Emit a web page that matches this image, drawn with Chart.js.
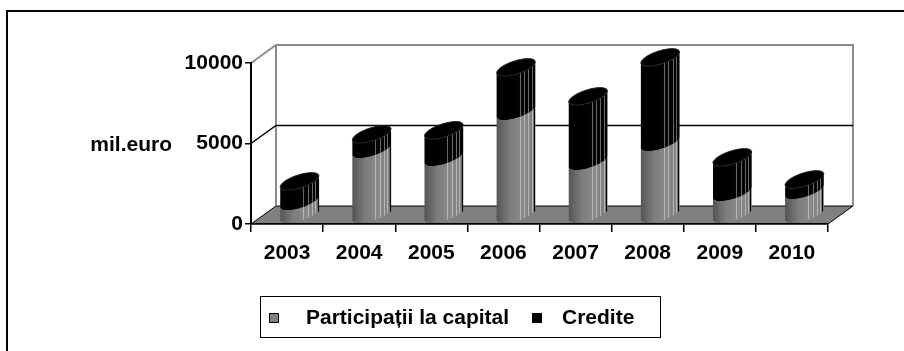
<!DOCTYPE html>
<html>
<head>
<meta charset="utf-8">
<script src="https://cdn.jsdelivr.net/npm/chart.js@4.4.1/dist/chart.umd.min.js"></script>
<style>
    html, body { margin: 0; padding: 0; background: #fff; }
    canvas { display: block; }
</style>
</head>
<body>
<canvas id="barChart" width="904" height="351"></canvas>
<script>
const years = ["2003", "2004", "2005", "2006", "2007", "2008", "2009", "2010"];
const participatii = [850, 4080, 3580, 6440, 3330, 4510, 1400, 1530];
const credite = [1240, 930, 1680, 2730, 4040, 5280, 2180, 680];
const yTicks = [0, 5000, 10000];

const FAMILY = "'Liberation Sans', Arial, sans-serif";
const FONT_SIZE = 21;
const DEPTH = { x: 25, y: -18 }; // oblique offset of the back wall
const DLEN = Math.hypot(DEPTH.x, DEPTH.y);
const U = { x: DEPTH.x / DLEN, y: DEPTH.y / DLEN };

// point on a horizontal circle of the cylinder, seen in oblique projection
function pt(cx, cy, r, t) {
    return [cx + r * Math.cos(t) + r * U.x * Math.sin(t), cy + r * U.y * Math.sin(t)];
}

function drawSegment(ctx, cx, yb, yt, r, colors, stripe) {
    const tL = Math.atan2(-U.x, -1);
    const N = 32;
    ctx.beginPath();
    for (let i = 0; i <= N; i++) {
        const [x, y] = pt(cx, yb, r, tL + Math.PI * i / N);
        i ? ctx.lineTo(x, y) : ctx.moveTo(x, y);
    }
    for (let i = N; i >= 0; i--) {
        const [x, y] = pt(cx, yt, r, tL + Math.PI * i / N);
        ctx.lineTo(x, y);
    }
    ctx.closePath();
    const hw = r * Math.hypot(1, U.x);
    const g = ctx.createLinearGradient(cx - hw, 0, cx + hw, 0);
    colors.forEach((c, i) => g.addColorStop(i / (colors.length - 1), c));
    ctx.fillStyle = g;
    ctx.fill();
    ctx.save();
    ctx.clip();
    ctx.strokeStyle = stripe;
    ctx.lineWidth = 1;
    [0.56, 0.64, 0.72, 0.8, 0.88].forEach(f => {
        const t = tL + Math.PI * f;
        const [x1, y1] = pt(cx, yb, r, t);
        const [, y2] = pt(cx, yt, r, t);
        ctx.beginPath();
        ctx.moveTo(Math.round(x1) + 0.5, y1);
        ctx.lineTo(Math.round(x1) + 0.5, y2);
        ctx.stroke();
    });
    ctx.restore();
    ctx.strokeStyle = "#000";
    ctx.lineWidth = 1.2;
    ctx.stroke();
}

const fills = [
    ["#555555", "#7c7c7c", "#8a8a8a", "#7e7e7e"],
    ["#000000", "#000000", "#050505", "#000000"],
];
const stripes = ["#b8b8b8", "#6a6a6a"];

const chart3d = {
    id: "chart3d",
    beforeDraw(chart) {
        const { ctx, chartArea: a, scales: { y } } = chart;
        const dx = DEPTH.x, dy = DEPTH.y;
        const y0 = y.getPixelForValue(0);
        const yt = y.getPixelForValue(y.max);
        ctx.save();
        // outer frame (top + left)
        ctx.strokeStyle = "#000";
        ctx.lineWidth = 2;
        ctx.beginPath();
        ctx.moveTo(7, 351);
        ctx.lineTo(7, 11);
        ctx.lineTo(904, 11);
        ctx.stroke();
        // floor
        ctx.fillStyle = "#808080";
        ctx.beginPath();
        ctx.moveTo(a.left, y0);
        ctx.lineTo(a.left + dx, y0 + dy);
        ctx.lineTo(a.right + dx, y0 + dy);
        ctx.lineTo(a.right, y0);
        ctx.closePath();
        ctx.fill();
        ctx.strokeStyle = "#000";
        ctx.lineWidth = 1;
        ctx.stroke();
        // back wall outline
        ctx.strokeStyle = "#8c8c8c";
        ctx.lineWidth = 2;
        ctx.beginPath();
        ctx.moveTo(a.left, yt);
        ctx.lineTo(a.left + dx, yt + dy);
        ctx.lineTo(a.right + dx, yt + dy);
        ctx.lineTo(a.right + dx, y0 + dy);
        ctx.moveTo(a.left + dx, yt + dy);
        ctx.lineTo(a.left + dx, y0 + dy);
        ctx.stroke();
        // gridlines on side and back wall
        ctx.strokeStyle = "#000";
        ctx.lineWidth = 1.5;
        yTicks.filter(v => v > 0 && v < y.max).forEach(v => {
            const py = y.getPixelForValue(v);
            ctx.beginPath();
            ctx.moveTo(a.left, py);
            ctx.lineTo(a.left + dx, py + dy);
            ctx.lineTo(a.right + dx, py + dy);
            ctx.stroke();
        });
        ctx.restore();
    },
    beforeDatasetsDraw(chart) {
        const ctx = chart.ctx;
        const n = chart.data.labels.length;
        ctx.save();
        for (let i = 0; i < n; i++) {
            let top = null;
            chart.data.datasets.forEach((ds, d) => {
                const el = chart.getDatasetMeta(d).data[i];
                const r = el.width / 2;
                const cx = el.x + DEPTH.x / 2;
                drawSegment(ctx, cx, el.base + DEPTH.y / 2, el.y + DEPTH.y / 2, r, fills[d], stripes[d]);
                top = { cx, cy: el.y + DEPTH.y / 2, r };
            });
            // top cap
            ctx.beginPath();
            for (let k = 0; k <= 48; k++) {
                const [x, yy] = pt(top.cx, top.cy, top.r, Math.PI * 2 * k / 48);
                k ? ctx.lineTo(x, yy) : ctx.moveTo(x, yy);
            }
            ctx.closePath();
            ctx.fillStyle = "#000";
            ctx.fill();
            ctx.strokeStyle = "#222";
            ctx.lineWidth = 1;
            ctx.stroke();
        }
        ctx.restore();
        return false; // bars are drawn above as cylinders
    },
    afterDraw(chart) {
        const ctx = chart.ctx;
        ctx.save();
        ctx.font = "bold " + FONT_SIZE + "px " + FAMILY;
        ctx.fillStyle = "#000";
        ctx.textBaseline = "middle";
        ctx.textAlign = "right";
        ctx.fillText("mil.euro", 172, 145);
        // legend box
        ctx.textAlign = "left";
        ctx.strokeStyle = "#000";
        ctx.lineWidth = 1;
        ctx.strokeRect(260.5, 296.5, 400, 41);
        const boxX = [269, 532];
        const textX = [306, 562];
        chart.data.datasets.forEach((ds, d) => {
            ctx.fillStyle = ds.backgroundColor;
            ctx.fillRect(boxX[d], 313, 10, 10);
            ctx.strokeRect(boxX[d] + 0.5, 313.5, 9, 9);
            ctx.fillStyle = "#000";
            ctx.fillText(ds.label, textX[d], 318);
        });
        ctx.restore();
    },
};

const tickFont = { family: FAMILY, size: FONT_SIZE, weight: "bold" };

new Chart(document.getElementById("barChart"), {
    type: "bar",
    data: {
        labels: years,
        datasets: [
            { label: "Participații la capital", data: participatii, backgroundColor: "#808080" },
            { label: "Credite", data: credite, backgroundColor: "#000000" },
        ],
    },
    options: {
        responsive: false,
        animation: false,
        layout: { padding: { left: 0, right: 76, top: 63, bottom: 87 } },
        datasets: { bar: { barPercentage: 0.416, categoryPercentage: 1 } },
        scales: {
            x: {
                stacked: true,
                afterFit: s => { s.height = 40; },
                grid: { drawOnChartArea: false, tickLength: 8, color: "#000", lineWidth: 1.5 },
                border: { display: true, color: "#000", width: 1.5 },
                ticks: { font: tickFont, color: "#000", padding: 9, maxRotation: 0 },
            },
            y: {
                stacked: true,
                min: 0,
                max: 10000,
                afterFit: s => { s.width = 251; },
                afterBuildTicks: s => { s.ticks = yTicks.map(v => ({ value: v })); },
                grid: { drawOnChartArea: false, tickLength: 6, color: "#000", lineWidth: 1.5 },
                border: { display: true, color: "#000", width: 2 },
                ticks: { font: tickFont, color: "#000", padding: 2, callback: v => String(v) },
            },
        },
        plugins: { legend: { display: false }, tooltip: { enabled: false } },
    },
    plugins: [chart3d],
});
</script>
</body>
</html>
